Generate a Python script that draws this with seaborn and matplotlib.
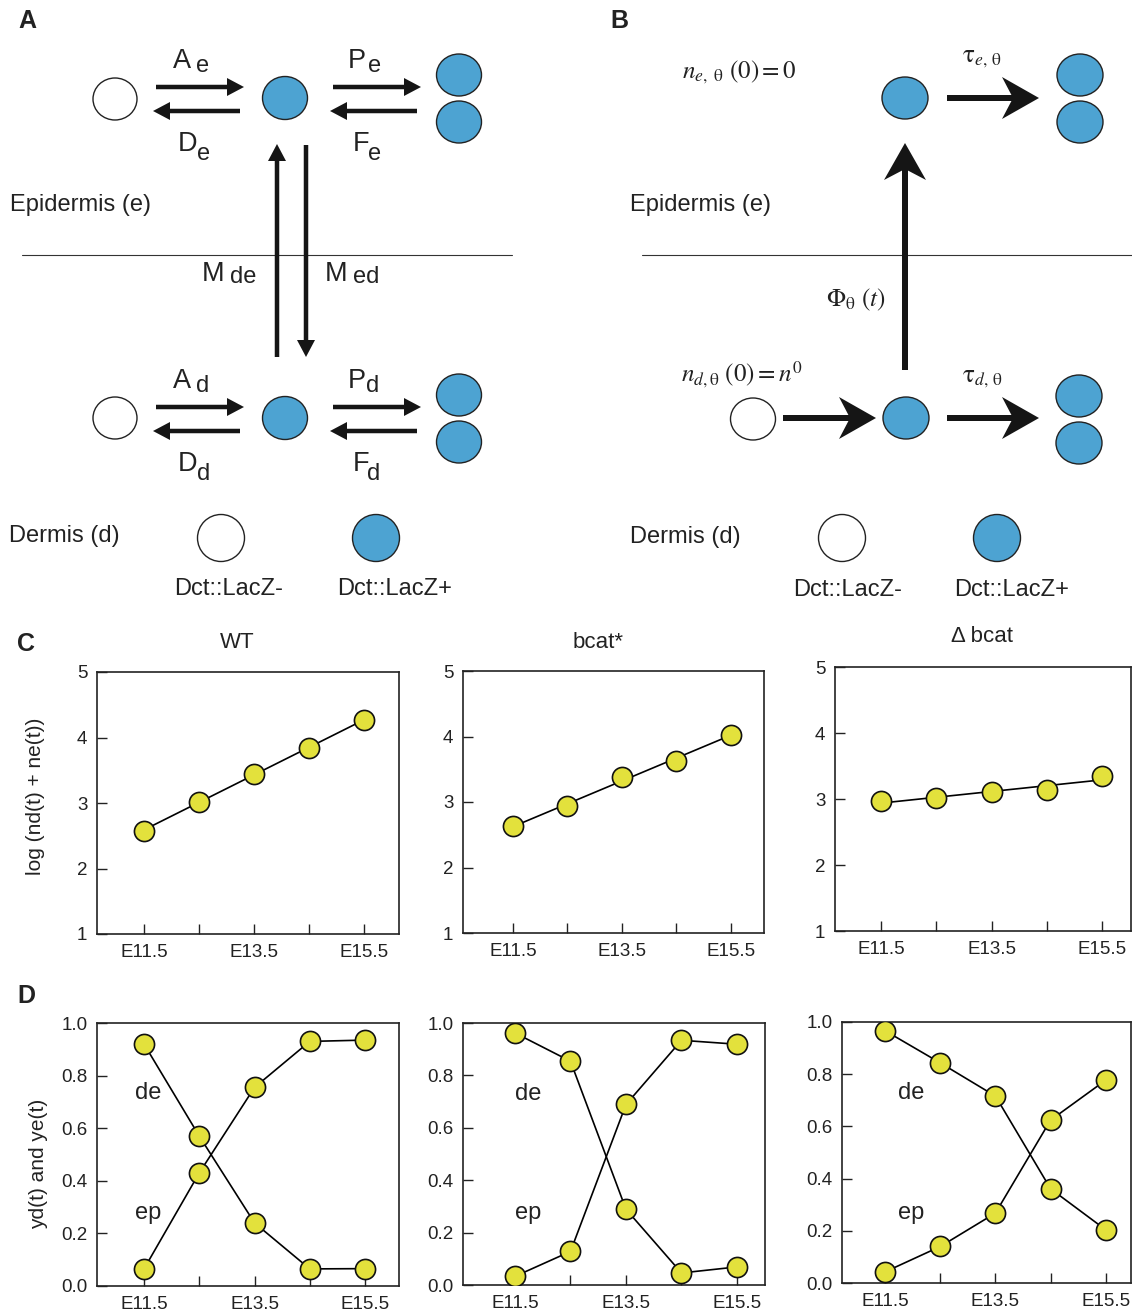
import numpy as np
import pandas as pd
import matplotlib
matplotlib.use("Agg")
import matplotlib.pyplot as plt
import seaborn as sns
from matplotlib.patches import Ellipse, Polygon, FancyArrow

# ------------------------------------------------------------------ data
stages = ["E11.5", "E12.5", "E13.5", "E14.5", "E15.5"]
stage_tick_labels = ["E11.5", "", "E13.5", "", "E15.5"]
conditions = ["WT", "bcat*", "Δ bcat"]

log_total_wt = [2.58, 3.02, 3.44, 3.84, 4.27]
log_total_bcat = [2.63, 2.94, 3.38, 3.63, 4.03]
log_total_dbcat = [2.97, 3.01, 3.11, 3.13, 3.35]

de_wt = [0.92, 0.57, 0.24, 0.065, 0.066]
ep_wt = [0.065, 0.43, 0.755, 0.93, 0.935]
de_bcat = [0.962, 0.854, 0.289, 0.046, 0.069]
ep_bcat = [0.033, 0.128, 0.689, 0.934, 0.919]
de_dbcat = [0.966, 0.843, 0.716, 0.361, 0.204]
ep_dbcat = [0.043, 0.140, 0.268, 0.624, 0.777]

c_yticks = [1, 2, 3, 4, 5]
c_yticklabels = ["1", "2", "3", "4", "5"]
d_yticks = [0.0, 0.2, 0.4, 0.6, 0.8, 1.0]
d_yticklabels = ["0.0", "0.2", "0.4", "0.6", "0.8", "1.0"]

# ------------------------------------------------------------------ style
sns.set_style("white")
plt.rcParams["font.family"] = ["Liberation Sans", "DejaVu Sans"]
plt.rcParams["mathtext.fontset"] = "stix"

W, H = 1132, 1313
fig = plt.figure(figsize=(W / 100, H / 100), dpi=100)
fig.patch.set_facecolor("white")

TXT = "#222222"
BLUE = "#4DA3D2"
YEL = "#E3E13C"
ARR = "#151515"

# background axes in pixel units for the schematic panels
dax = fig.add_axes([0, 0, 1, 1], zorder=0)
dax.set_xlim(0, W)
dax.set_ylim(H, 0)
dax.axis("off")


def px_box(l, t, r, b):
    return [l / W, 1 - b / H, (r - l) / W, (b - t) / H]


def cell(x, y, blue, w=45, h=43):
    dax.add_patch(Ellipse((x, y), w, h, facecolor=BLUE if blue else "white",
                          edgecolor="#222222", lw=1.0, zorder=2))


def thin_arrow(x0, y0, x1, y1):
    dax.add_patch(FancyArrow(x0, y0, x1 - x0, y1 - y0, width=4.5, head_width=18,
                             head_length=17, length_includes_head=True,
                             color=ARR, lw=0, zorder=2))


def big_arrow(x0, y0, x1, y1, L=37, Wd=42, notch=11, shaft=6):
    p0 = np.array([x0, y0], float)
    p1 = np.array([x1, y1], float)
    u = (p1 - p0) / np.linalg.norm(p1 - p0)
    n = np.array([-u[1], u[0]])
    back = p1 - L * u
    nb = p1 - (L - notch) * u
    head = [p1, back + n * Wd / 2, nb, back - n * Wd / 2]
    dax.add_patch(Polygon(head, closed=True, color=ARR, lw=0, zorder=2))
    rect = [p0 + n * shaft / 2, nb + u * 2 + n * shaft / 2,
            nb + u * 2 - n * shaft / 2, p0 - n * shaft / 2]
    dax.add_patch(Polygon(rect, closed=True, color=ARR, lw=0, zorder=2))


def lab(x, y, s, size=17, **kw):
    kw.setdefault("va", "center")
    kw.setdefault("ha", "left")
    dax.text(x, y, s, fontsize=size, color=TXT, **kw)


def sublab(x, main, sub, base, subx, subbase):
    dax.text(x, base, main, fontsize=19.5, color=TXT, va="baseline", ha="left")
    dax.text(subx, subbase, sub, fontsize=17, color=TXT, va="baseline", ha="left")


# ---------------- panel A
dax.text(18, 21, "A", fontsize=18, fontweight="bold", color=TXT, va="center")
for dy in (0, 320):
    cell(115, 99 + dy - (1 if dy else 0), False, 44, 42)
    cell(285, 98 + dy, True, 45, 43)
    cell(459, 75 + dy, True, 45, 42)
    cell(459, 122 + dy, True, 45, 42)
    thin_arrow(156, 87 + dy, 244, 87 + dy)
    thin_arrow(240, 111 + dy, 153, 111 + dy)
    thin_arrow(333, 87 + dy, 421, 87 + dy)
    thin_arrow(417, 111 + dy, 330, 111 + dy)

sublab(173, "A", "e", 68, 196, 72)
sublab(178, "D", "e", 151, 197, 160)
sublab(348, "P", "e", 68, 368, 72)
sublab(353, "F", "e", 151, 368, 160)
sublab(173, "A", "d", 388, 196, 392)
sublab(178, "D", "d", 471, 197, 480)
sublab(348, "P", "d", 388, 366, 392)
sublab(353, "F", "d", 471, 367, 480)

thin_arrow(277, 357, 277, 144)
thin_arrow(306, 145, 306, 357)
dax.plot([22, 512], [255, 255], color="#333333", lw=0.8, zorder=1)
sublab(202, "M", "de", 281, 230, 283)
sublab(325, "M", "ed", 281, 353, 283)

lab(10, 205, "Epidermis (e)")
lab(9, 536, "Dermis (d)")
cell(221, 538, False, 47, 47)
cell(376, 538, True, 47, 47)
lab(229, 589, "Dct::LacZ-", ha="center")
lab(395, 589, "Dct::LacZ+", ha="center")

# ---------------- panel B
dax.text(610, 21, "B", fontsize=18, fontweight="bold", color=TXT, va="center")
cell(905, 98, True, 46, 42)
cell(1080, 75, True, 46, 42)
cell(1080, 122, True, 46, 42)
big_arrow(947, 98, 1039, 98)
cell(753, 419, False, 45, 42)
cell(906, 418, True, 46, 42)
cell(1079, 396, True, 46, 42)
cell(1079, 443, True, 46, 42)
big_arrow(783, 418, 876, 418)
big_arrow(947, 418, 1039, 418)
big_arrow(905, 370, 905, 143)
dax.plot([642, 1132], [255, 255], color="#333333", lw=0.8, zorder=1)

lab(682, 72, r"$n_{e,\ \mathrm{\theta}}\ (0) = 0$", size=18)
lab(962, 58, r"$\mathrm{\tau}_{e,\,\mathrm{\theta}}$", size=18)
lab(826, 300, r"$\Phi_{\mathrm{\theta}}\ (t)$", size=18)
lab(681, 375, r"$n_{d,\mathrm{\theta}}\ (0) = n^{0}$", size=18)
lab(962, 378, r"$\mathrm{\tau}_{d,\,\mathrm{\theta}}$", size=18)

lab(630, 205, "Epidermis (e)")
lab(630, 537, "Dermis (d)")
cell(842, 538, False, 47, 47)
cell(997, 538, True, 47, 47)
lab(848, 590, "Dct::LacZ-", ha="center")
lab(1012, 590, "Dct::LacZ+", ha="center")

# ---------------- panels C and D
dax.text(17, 644, "C", fontsize=18, fontweight="bold", color=TXT, va="center")
dax.text(17, 996, "D", fontsize=18, fontweight="bold", color=TXT, va="center")

idx = np.arange(len(stages))

c_boxes = [(97, 672, 399, 934), (463, 671, 764, 933), (835, 667, 1131, 931)]
c_xlims = [(-0.855, 4.636), (-0.917, 4.606), (-0.833, 4.525)]
c_titles_px = [(237, 643), (598, 643), (982, 637)]
c_data = [log_total_wt, log_total_bcat, log_total_dbcat]

d_boxes = [(97, 1023, 399, 1286), (463, 1023, 765, 1285), (842, 1022, 1131, 1283)]
d_xlims = [(-0.851, 4.615), (-0.937, 4.505), (-0.786, 4.46)]
d_de = [de_wt, de_bcat, de_dbcat]
d_ep = [ep_wt, ep_bcat, ep_dbcat]
de_px = [(148, 1099), (528, 1100), (911, 1099)]
ep_px = [(148, 1219), (528, 1219), (911, 1219)]


def style_axes(ax, xlim, ylim, yticks, yticklabels):
    ax.set_xlim(*xlim)
    ax.set_ylim(*ylim)
    ax.set_xticks(idx)
    ax.set_xticklabels(stage_tick_labels)
    ax.set_yticks(yticks)
    ax.set_yticklabels(yticklabels)
    ax.tick_params(direction="in", length=7, width=1.0, pad=7, labelsize=13.5,
                   colors=TXT, bottom=True, left=True, top=False, right=False)
    for sp in ax.spines.values():
        sp.set_visible(True)
        sp.set_linewidth(1.2)
        sp.set_color(TXT)
    ax.set_xlabel("")
    ax.set_ylabel("")
    ax.grid(False)


for i in range(3):
    ax = fig.add_axes(px_box(*c_boxes[i]), zorder=2)
    ax.patch.set_alpha(0)
    sns.regplot(x=idx, y=np.array(c_data[i]), ax=ax, ci=None, scatter=False,
                color="black", line_kws={"lw": 1.2, "zorder": 2})
    sns.scatterplot(x=idx, y=c_data[i], ax=ax, s=210, color=YEL,
                    edgecolor="#111111", linewidth=1.2, zorder=3)
    style_axes(ax, c_xlims[i], (1, 5), c_yticks, c_yticklabels)
    tx, ty = c_titles_px[i]
    ax.text(tx, ty, conditions[i], transform=dax.transData, fontsize=16,
            color=TXT, ha="center", va="center")
    if i == 0:
        ax.set_ylabel("log (nd(t) + ne(t))", fontsize=15, color=TXT, va="center")
        ax.yaxis.set_label_coords(-0.205, 0.527)

for i in range(3):
    ax = fig.add_axes(px_box(*d_boxes[i]), zorder=2)
    ax.patch.set_alpha(0)
    for series in (d_de[i], d_ep[i]):
        sns.lineplot(x=idx, y=series, ax=ax, sort=False, estimator=None,
                     color="black", lw=1.2, zorder=2)
        sns.scatterplot(x=idx, y=series, ax=ax, s=210, color=YEL,
                        edgecolor="#111111", linewidth=1.2, zorder=3)
    style_axes(ax, d_xlims[i], (0, 1), d_yticks, d_yticklabels)
    ax.text(*de_px[i], "de", transform=dax.transData, fontsize=17, color=TXT,
            ha="center", va="baseline")
    ax.text(*ep_px[i], "ep", transform=dax.transData, fontsize=17, color=TXT,
            ha="center", va="baseline")
    if i == 0:
        ax.set_ylabel("yd(t) and ye(t)", fontsize=15, color=TXT, va="center")
        ax.yaxis.set_label_coords(-0.195, 0.464)

fig.savefig("out.png", dpi=100, facecolor="white")
